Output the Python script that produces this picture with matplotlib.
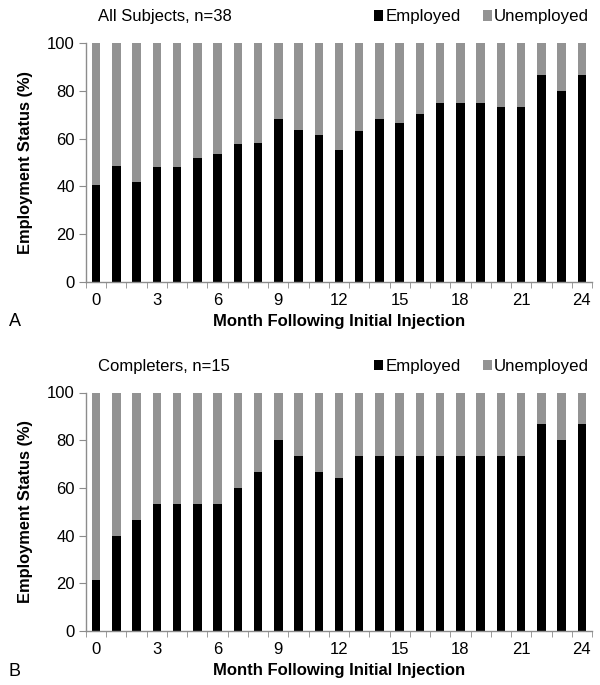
import matplotlib
matplotlib.use("Agg")
import matplotlib.pyplot as plt
from matplotlib.patches import Patch
import numpy as np

plt.rcParams['font.family'] = ['Liberation Sans', 'DejaVu Sans']

months = list(range(0, 25))
tick_labels = ["0", "3", "6", "9", "12", "15", "18", "21", "24"]

# Percent employed by month
employed_all = [40.5, 48.5, 42.0, 48.3, 48.1, 51.7, 53.6, 57.6, 58.2, 68.1,
                63.5, 61.6, 55.4, 63.0, 68.1, 66.4, 70.4, 75.0, 75.0, 75.0,
                73.3, 73.3, 86.7, 80.0, 86.7]
employed_completers = [21.4, 40.0, 46.7, 53.3, 53.3, 53.3, 53.3, 60.0, 66.7, 80.0,
                       73.3, 66.7, 64.3, 73.3, 73.3, 73.3, 73.3, 73.3, 73.3, 73.3,
                       73.3, 73.3, 86.7, 80.0, 86.7]

titles = ["All Subjects, n=38", "Completers, n=15"]
panel_letters = ["A", "B"]
xlabel = "Month Following Initial Injection"
ylabel = "Employment Status (%)"
legend_labels = ["Employed", "Unemployed"]

W, H = 600, 685
fig = plt.figure(figsize=(W / 100, H / 100), dpi=100)

BLACK = "#000000"
GREY = "#939393"
AXIS = "#8c8c8c"


def px_axes(left, top, right, bottom):
    return fig.add_axes([left / W, 1 - bottom / H, (right - left) / W, (bottom - top) / H])


panels = [
    (employed_all, 43, 282),
    (employed_completers, 392.5, 631),
]

for i, (emp, top, bottom) in enumerate(panels):
    ax = px_axes(86, top, 592, bottom)
    x = np.array(months)
    emp = np.array(emp)
    unemp = 100 - emp
    ax.bar(x, emp, width=0.42, color=BLACK, zorder=2)
    ax.bar(x, unemp, bottom=emp, width=0.42, color=GREY, zorder=2)
    ax.set_xlim(-0.5, 24.5)
    ax.set_ylim(0, 100)
    for s in ["top", "right"]:
        ax.spines[s].set_visible(False)
    for s in ["left", "bottom"]:
        ax.spines[s].set_color(AXIS)
        ax.spines[s].set_linewidth(1.0)
    ax.set_yticks([0, 20, 40, 60, 80, 100])
    ax.tick_params(axis="y", length=5, color=AXIS, labelsize=12, pad=3)
    ax.set_xticks([int(t) for t in tick_labels])
    ax.set_xticklabels(tick_labels)
    ax.tick_params(axis="x", which="major", length=0, labelsize=12, pad=8)
    ax.set_xticks(np.arange(-0.5, 25, 1), minor=True)
    ax.tick_params(axis="x", which="minor", length=4, color=AXIS)
    ax.set_xlabel(xlabel, fontsize=12, fontweight="bold", labelpad=4)
    ax.set_ylabel(ylabel, fontsize=11.8, fontweight="bold")
    ax.yaxis.set_label_coords((33 - 86) / 506, 0.5)

    # panel title and legend above the plot area
    ty = top - 26
    fig.text(98 / W, 1 - ty / H, titles[i], fontsize=12, ha="left", va="center")
    handles = [Patch(facecolor=BLACK, edgecolor="none"), Patch(facecolor=GREY, edgecolor="none")]
    fig.legend(handles, legend_labels, loc="center right",
               bbox_to_anchor=(589 / W, 1 - ty / H), ncol=2, frameon=False,
               fontsize=12.2, handlelength=0.55, handleheight=0.55,
               handletextpad=0.12, columnspacing=1.3, borderpad=0, borderaxespad=0)
    fig.text(15 / W, 1 - (bottom + 40) / H, panel_letters[i], fontsize=13, ha="center", va="center")

fig.savefig("out.png", dpi=100)
